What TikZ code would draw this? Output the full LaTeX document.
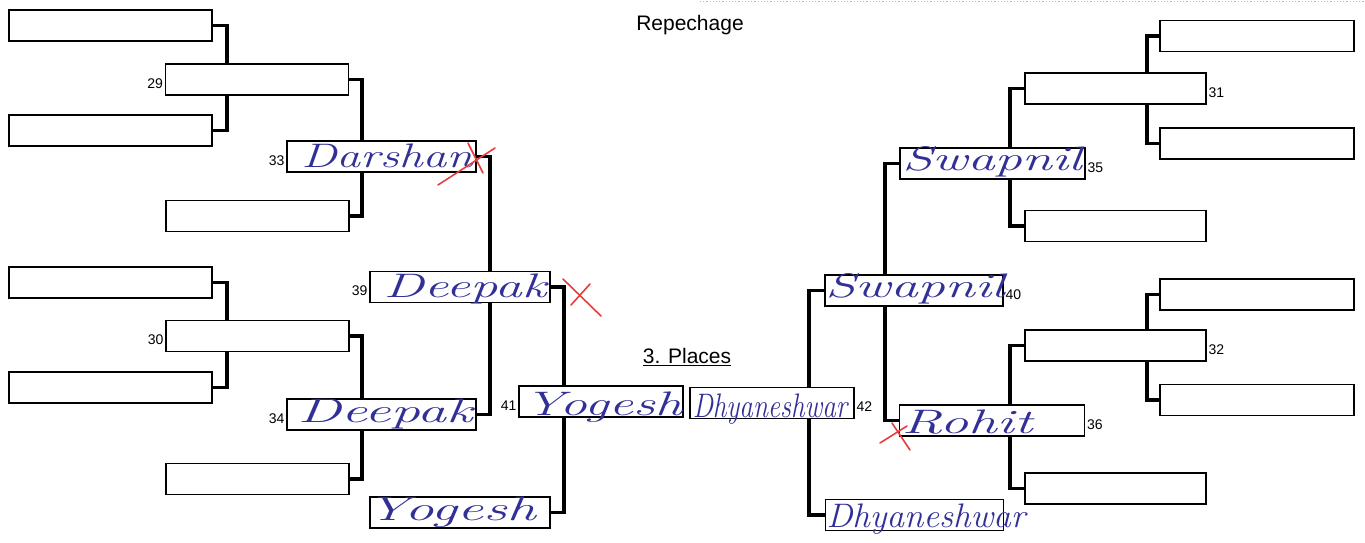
\documentclass[tikz,border=0pt]{standalone}
\usepackage{fontspec}
\usepackage{tikz}
\newfontfamily\printfont{Liberation Sans}
\definecolor{ink}{RGB}{50,48,150}
\definecolor{redpen}{RGB}{228,62,62}
\newcommand{\ink}[2]{\scalebox{#1}[1]{#2}}

\begin{document}
\begin{tikzpicture}[x=1pt,y=-1pt,
    slot/.style={draw, line width=1.8pt, minimum height=31, inner sep=0},
    link/.style={line width=3.8pt},
    hand/.style={text=ink, font=\fontsize{34}{34}\selectfont\itshape, inner sep=0},
    num/.style={font=\printfont\fontsize{14}{14}\selectfont, inner sep=1.5, yshift=-4},
    redx/.style={draw=redpen, line width=1.6pt, line cap=round}]
      \useasboundingbox (0,0) rectangle (1365,542);

      %Titres
      \node[font=\printfont\fontsize{21}{21}\selectfont] (repechage) at (690,25) {Repechage};
      \node[font=\printfont\fontsize{21}{21}\selectfont] (places) at (687,357) {\underline{3. Places}};
      \draw[gray!55, dotted, line width=1.2pt] (700,1.5) -- (1365,1.5);

      %Colonnes des liens
      \coordinate (cA) at (227,0);
      \coordinate (cB) at (362,0);
      \coordinate (cC) at (490,0);
      \coordinate (cD) at (564,0);
      \coordinate (cE) at (809,0);
      \coordinate (cF) at (885,0);
      \coordinate (cG) at (1010,0);
      \coordinate (cH) at (1147,0);

      %Tableau gauche
      \node[slot, minimum width=203] (la1) at (110.5,25.5) {};
      \node[slot, minimum width=203] (la2) at (110.5,130.5) {};
      \node[slot, minimum width=203] (la3) at (110.5,282.5) {};
      \node[slot, minimum width=203] (la4) at (110.5,387.5) {};
      \node[slot, minimum width=183, label={[num]left:29}] (b29) at (257,79.5) {};
      \node[slot, minimum width=183] (lb2) at (257.5,216) {};
      \node[slot, minimum width=183, label={[num]left:30}] (b30) at (257.5,336) {};
      \node[slot, minimum width=183] (lb4) at (257.5,479) {};
      \node[slot, minimum width=189, label={[num]left:33}] (b33) at (381.5,156.5) {};
      \node[slot, minimum width=189, label={[num]left:34}] (b34) at (381.5,414.5) {};
      \node[slot, minimum width=180, label={[num]left:39}] (b39) at (460,287) {};
      \node[slot, minimum width=180] (lyog) at (460,512.5) {};
      \node[slot, minimum width=164, label={[num]left:41}] (b41) at (601,401.5) {};

      %Tableau droit
      \node[slot, minimum width=164, label={[num]right:42}] (b42) at (772,403) {};
      \node[slot, minimum width=178, label={[num]right:40}] (b40) at (914,290.5) {};
      \node[slot, minimum width=178] (rdhy) at (914.5,515) {};
      \node[slot, minimum width=185, label={[num]right:35}] (b35) at (992.5,163.5) {};
      \node[slot, minimum width=185, label={[num]right:36}] (b36) at (992,420.5) {};
      \node[slot, minimum width=181, label={[num]right:31}] (b31) at (1115.5,88.5) {};
      \node[slot, minimum width=181] (rb2) at (1115.5,226) {};
      \node[slot, minimum width=181, label={[num]right:32}] (b32) at (1115.5,345.5) {};
      \node[slot, minimum width=181] (rb4) at (1115.5,488.5) {};
      \node[slot, minimum width=194] (ra1) at (1257,36) {};
      \node[slot, minimum width=194] (ra2) at (1257,143.5) {};
      \node[slot, minimum width=194] (ra3) at (1257,294.5) {};
      \node[slot, minimum width=194] (ra4) at (1257,400) {};

      %Liens gauche
      \draw[link] (la1.east) -| (cA |- b29.north);
      \draw[link] (la2.east) -| (cA |- b29.south);
      \draw[link] (la3.east) -| (cA |- b30.north);
      \draw[link] (la4.east) -| (cA |- b30.south);
      \draw[link] (b29.east) -| (cB |- b33.north);
      \draw[link] (lb2.east) -| (cB |- b33.south);
      \draw[link] (b30.east) -| (cB |- b34.north);
      \draw[link] (lb4.east) -| (cB |- b34.south);
      \draw[link] (b33.east) -| (cC |- b39.north);
      \draw[link] (b34.east) -| (cC |- b39.south);
      \draw[link] (b39.east) -| (cD |- b41.north);
      \draw[link] (lyog.east) -| (cD |- b41.south);

      %Liens droit
      \draw[link] (b40.west) -| (cE |- b42.north);
      \draw[link] (rdhy.west) -| (cE |- b42.south);
      \draw[link] (b35.west) -| (cF |- b40.north);
      \draw[link] (b36.west) -| (cF |- b40.south);
      \draw[link] (b31.west) -| (cG |- b35.north);
      \draw[link] (rb2.west) -| (cG |- b35.south);
      \draw[link] (b32.west) -| (cG |- b36.north);
      \draw[link] (rb4.west) -| (cG |- b36.south);
      \draw[link] (ra1.west) -| (cH |- b31.north);
      \draw[link] (ra2.west) -| (cH |- b31.south);
      \draw[link] (ra3.west) -| (cH |- b32.north);
      \draw[link] (ra4.west) -| (cH |- b32.south);

      %Noms manuscrits
      \node[hand] (hDarshan) at (387,156) {\ink{1.4}{Darshan}};
      \node[hand] (hDeepakA) at (465,289) {\ink{1.6}{Deepak}};
      \node[hand] (hDeepakB) at (385,414) {\ink{1.72}{Deepak}};
      \node[hand] (hYogeshA) at (451,512) {\ink{1.72}{Yogesh}};
      \node[hand] (hYogeshB) at (603,407) {\ink{1.6}{Yogesh}};
      \node[hand] (hDhyA) at (770,409) {\ink{0.8}{Dhyaneshwar}};
      \node[hand] (hDhyB) at (926,519) {\ink{1.03}{Dhyaneshwar}};
      \node[hand] (hSwapA) at (992,162) {\ink{1.6}{Swapnil}};
      \node[hand] (hSwapB) at (915,289) {\ink{1.6}{Swapnil}};
      \node[hand] (hRohit) at (967,422) {\ink{1.68}{Rohit}};

      %Croix rouges
      \draw[redx] (438,185) -- (495,148);
      \draw[redx] (468,143) -- (483,173);
      \draw[redx] (563,279) -- (601,316);
      \draw[redx] (590,284) -- (571,305);
      \draw[redx] (880,443) -- (907,426);
      \draw[redx] (892,423) -- (910,450);
\end{tikzpicture}
\end{document}
